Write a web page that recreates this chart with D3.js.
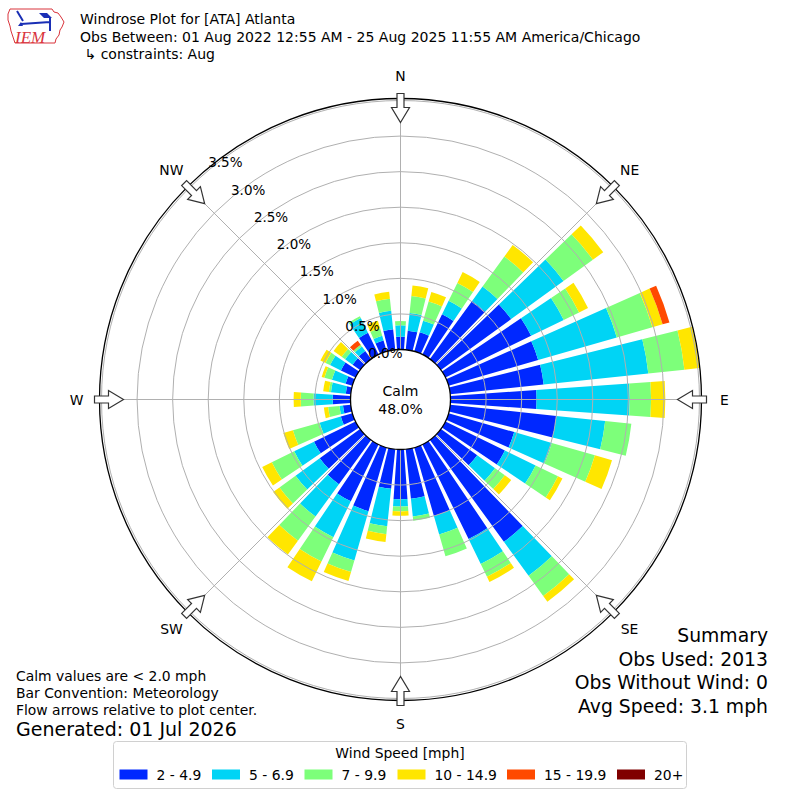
<!DOCTYPE html>
<html>
<head>
<meta charset="utf-8">
<script src="https://cdn.jsdelivr.net/npm/d3@7"></script>
<style>
  body { margin: 0; background: #fff; }
  svg { display: block; font-family: "DejaVu Sans", sans-serif; }
</style>
</head>
<body>
<div id="chart"></div>
<script>
var width = 800;
var height = 800;

// wind directions (deg, meteorological) and speed bins
var directions = [0, 10, 20, 30, 40, 50, 60, 70, 80, 90, 100, 110, 120, 130, 140, 150, 160, 170,
                  180, 190, 200, 210, 220, 230, 240, 250, 260, 270, 280, 290, 300, 310, 320, 330, 340, 350];
var bins = ["2 - 4.9", "5 - 6.9", "7 - 9.9", "10 - 14.9", "15 - 19.9", "20+"];
var colors = ["#0028ff", "#00d4f5", "#7dff7a", "#ffe600", "#ff4a00", "#800000"];

// percent of observations per direction for each speed bin
var bin2to5 = [0.18, 0.27, 0.28, 0.63, 1.01, 1.22, 1.34, 1.31, 1.32, 1.21, 1.50, 0.96, 0.93, 0.63, 1.77, 1.48, 1.00, 0.70,
               0.70, 0.56, 0.93, 0.89, 0.77, 0.70, 0.65, 0.17, 0.11, 0.25, 0.07, 0.10, 0.23, 0.13, 0.14, 0.34, 0.16, 0.29];
var bin5to7 = [0.16, 0.25, 0.17, 0.21, 0.25, 0.91, 0.51, 1.15, 1.48, 1.31, 0.69, 0.55, 0.48, 0.31, 0.59, 0.39, 0.27, 0.25,
               0.10, 0.53, 0.72, 0.56, 0.56, 0.42, 0.31, 0.31, 0.05, 0.27, 0.21, 0.20, 0.17, 0.13, 0.08, 0.23, 0.07, 0.26];
var bin7to10 = [0.06, 0.24, 0.28, 0.28, 0.52, 0.51, 0.24, 0.52, 0.51, 0.30, 0.37, 0.63, 0.35, 0.17, 0.35, 0.20, 0.32, 0.06,
                0.07, 0.11, 0.17, 0.38, 0.42, 0.28, 0.35, 0.39, 0.16, 0.18, 0.03, 0.11, 0.07, 0.06, 0.03, 0.03, 0.11, 0.17];
var bin10to15 = [0, 0.15, 0.14, 0.17, 0.20, 0.18, 0.14, 0.15, 0.21, 0.20, 0, 0.25, 0.07, 0.11, 0.10, 0.08, 0, 0,
                 0.06, 0.11, 0.13, 0.31, 0.24, 0.11, 0.15, 0.14, 0.06, 0.10, 0.08, 0.04, 0.08, 0.14, 0, 0, 0.11, 0.10];
var bin15to20 = [0, 0, 0, 0, 0, 0, 0, 0.10, 0, 0, 0, 0, 0, 0, 0, 0, 0, 0,
                 0, 0, 0, 0, 0, 0, 0, 0, 0, 0, 0, 0, 0, 0, 0.07, 0, 0, 0];
var bin20up = [0, 0, 0, 0, 0, 0, 0, 0, 0, 0, 0, 0, 0, 0, 0, 0, 0, 0,
               0, 0, 0, 0, 0, 0, 0, 0, 0, 0, 0, 0, 0, 0, 0, 0, 0, 0];

var ringTicks = [0, 0.5, 1.0, 1.5, 2.0, 2.5, 3.0, 3.5];
var compass = ["N", "NE", "E", "SE", "S", "SW", "W", "NW"];
var compassAngles = [0, 45, 90, 135, 180, 225, 270, 315];

var titleLines = ["Windrose Plot for [ATA] Atlanta",
                  "Obs Between: 01 Aug 2022 12:55 AM - 25 Aug 2025 11:55 AM America/Chicago",
                  " \u21b3 constraints: Aug"];
var noteLines = ["Calm values are < 2.0 mph", "Bar Convention: Meteorology", "Flow arrows relative to plot center."];
var summaryLines = ["Summary", "Obs Used: 2013", "Obs Without Wind: 0", "Avg Speed: 3.1 mph"];
var calmPct = "48.0%";

var cx = 400.5, cy = 399.5;
var rad = Math.PI / 180;

var table = directions.map(function (d, i) {
  return { dir: d, "2 - 4.9": bin2to5[i], "5 - 6.9": bin5to7[i], "7 - 9.9": bin7to10[i],
           "10 - 14.9": bin10to15[i], "15 - 19.9": bin15to20[i], "20+": bin20up[i] };
});

var svg = d3.select("#chart").append("svg")
  .attr("width", width)
  .attr("height", height);

var r = d3.scaleLinear().domain([0, 3.5]).range([50, 299]);

var plot = svg.append("g").attr("transform", "translate(" + cx + "," + cy + ")");

// stacked wedges
var stacked = d3.stack().keys(bins)(table);
var arc = d3.arc()
  .innerRadius(function (d) { return r(d[0]); })
  .outerRadius(function (d) { return r(d[1]); })
  .startAngle(function (d) { return (d.data.dir - 4) * rad; })
  .endAngle(function (d) { return (d.data.dir + 4) * rad; });

plot.selectAll("g.layer")
  .data(stacked)
  .enter()
  .append("g")
  .attr("class", "layer")
  .attr("fill", function (d, i) { return colors[i]; })
  .selectAll("path")
  .data(function (d) { return d.filter(function (s) { return s[1] - s[0] > 0; }); })
  .enter()
  .append("path")
  .attr("d", arc);

// grid on top of bars
plot.selectAll("circle.ring")
  .data(ringTicks.slice(1))
  .enter()
  .append("circle")
  .attr("class", "ring")
  .attr("r", function (d) { return r(d); })
  .attr("fill", "none")
  .attr("stroke", "#b0b0b0")
  .attr("stroke-width", 1);

plot.selectAll("line.spoke")
  .data(compassAngles)
  .enter()
  .append("line")
  .attr("x1", function (a) { return r(0) * Math.sin(a * rad); })
  .attr("y1", function (a) { return -r(0) * Math.cos(a * rad); })
  .attr("x2", function (a) { return r(3.5) * Math.sin(a * rad); })
  .attr("y2", function (a) { return -r(3.5) * Math.cos(a * rad); })
  .attr("stroke", "#b0b0b0")
  .attr("stroke-width", 1);

// outer frame
plot.append("circle")
  .attr("r", 301)
  .attr("fill", "none")
  .attr("stroke", "#000")
  .attr("stroke-width", 1.3);

// flow arrows pointing at the center
var arrowPath = "M0,-277 L9,-292 L3.5,-292 L3.5,-306 L-3.5,-306 L-3.5,-292 L-9,-292 Z";
plot.selectAll("path.arrow")
  .data(compassAngles)
  .enter()
  .append("path")
  .attr("class", "arrow")
  .attr("d", arrowPath)
  .attr("transform", function (a) { return "rotate(" + a + ")"; })
  .attr("fill", "#fff")
  .attr("stroke", "#333")
  .attr("stroke-width", 1.2)
  .attr("stroke-linejoin", "miter");

plot.selectAll("text.compass")
  .data(compass)
  .enter()
  .append("text")
  .attr("x", function (d, i) { return 324 * Math.sin(compassAngles[i] * rad); })
  .attr("y", function (d, i) { return -324 * Math.cos(compassAngles[i] * rad); })
  .attr("text-anchor", "middle")
  .attr("dominant-baseline", "central")
  .attr("font-size", "13.9px")
  .text(function (d) { return d; });

// calm circle
plot.append("circle")
  .attr("r", r(0))
  .attr("fill", "#fff")
  .attr("stroke", "#000")
  .attr("stroke-width", 1.3);

plot.append("text")
  .attr("y", -9)
  .attr("text-anchor", "middle")
  .attr("dominant-baseline", "central")
  .attr("font-size", "14px")
  .text("Calm");
plot.append("text")
  .attr("y", 9)
  .attr("text-anchor", "middle")
  .attr("dominant-baseline", "central")
  .attr("font-size", "14px")
  .text(calmPct);

// ring labels along the 320 deg bearing
plot.selectAll("text.rlabel")
  .data(ringTicks)
  .enter()
  .append("text")
  .attr("x", function (d) { return -Math.sin(40 * rad) * r(d) + 17; })
  .attr("y", function (d) { return -Math.cos(40 * rad) * r(d) - 8; })
  .attr("text-anchor", "middle")
  .attr("dominant-baseline", "central")
  .attr("font-size", "13.5px")
  .text(function (d) { return d.toFixed(1) + "%"; });

// header
svg.selectAll("text.title")
  .data(titleLines)
  .enter()
  .append("text")
  .attr("x", 80)
  .attr("y", function (d, i) { return 24 + i * 17.5; })
  .attr("font-size", "14px")
  .attr("xml:space", "preserve")
  .style("white-space", "pre")
  .text(function (d) { return d; });

// logo
var logo = svg.append("g");
logo.append("path")
  .attr("d", "M10,9 L52,9 L54,12 L58,13 L61,17 L64,22 L62,27 L60,30 L59,35 L56,39 L55,43 L15,43 L13,37 L11,31 L10,26 L8,20 L8,14 Z")
  .attr("fill", "#fff")
  .attr("stroke", "#d9343c")
  .attr("stroke-width", 1);
logo.append("path")
  .attr("d", "M21,24 L50,22 M17,11 L23,21 M50,17 L50,31")
  .attr("stroke", "#1a2fb5")
  .attr("stroke-width", 2)
  .attr("fill", "none");
logo.append("path")
  .attr("d", "M39,13 L47,13 L52,18 L44,18 Z M18,26 L21,22 L23,26 Z")
  .attr("fill", "#1a2fb5");
logo.append("text")
  .attr("x", 15)
  .attr("y", 43)
  .attr("font-family", "'Liberation Serif', serif")
  .attr("font-style", "italic")
  .attr("font-size", "17px")
  .attr("fill", "#d9343c")
  .text("IEM");

// notes bottom left
svg.selectAll("text.note")
  .data(noteLines)
  .enter()
  .append("text")
  .attr("x", 16)
  .attr("y", function (d, i) { return 681 + i * 17; })
  .attr("font-size", "13.9px")
  .text(function (d) { return d; });
svg.append("text")
  .attr("x", 16)
  .attr("y", 736)
  .attr("font-size", "19px")
  .text("Generated: 01 Jul 2026");

// summary bottom right
svg.selectAll("text.summary")
  .data(summaryLines)
  .enter()
  .append("text")
  .attr("x", 768)
  .attr("y", function (d, i) { return 642 + i * 23.7; })
  .attr("text-anchor", "end")
  .attr("font-size", "18.8px")
  .text(function (d) { return d; });

// legend
var legend = svg.append("g").attr("id", "legend");
legend.append("rect")
  .attr("x", 113.5)
  .attr("y", 741.5)
  .attr("width", 573)
  .attr("height", 47)
  .attr("rx", 3)
  .attr("fill", "#fff")
  .attr("stroke", "#d0d0d0");
legend.append("text")
  .attr("x", 400)
  .attr("y", 753)
  .attr("text-anchor", "middle")
  .attr("dominant-baseline", "central")
  .attr("font-size", "13.9px")
  .text("Wind Speed [mph]");

var itemX = [119.5, 212, 304.5, 397.5, 507, 617];
var item = legend.selectAll("g.item")
  .data(bins)
  .enter()
  .append("g")
  .attr("class", "item")
  .attr("transform", function (d, i) { return "translate(" + itemX[i] + ",0)"; });
item.append("rect")
  .attr("y", 769.5)
  .attr("width", 28)
  .attr("height", 10)
  .attr("fill", function (d, i) { return colors[i]; });
item.append("text")
  .attr("x", 37)
  .attr("y", 775)
  .attr("dominant-baseline", "central")
  .attr("font-size", "13.9px")
  .text(function (d) { return d; });
</script>
</body>
</html>
